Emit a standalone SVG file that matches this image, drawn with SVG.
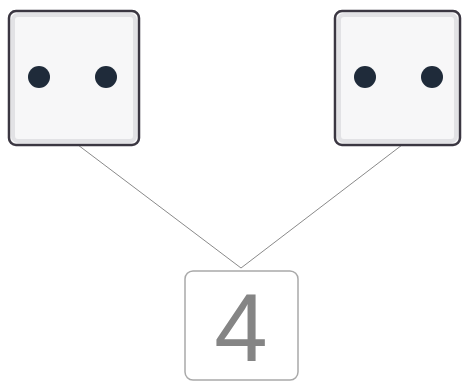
<svg xmlns="http://www.w3.org/2000/svg" width="467" height="382" viewBox="0 0 467 382">
<style>
.die{fill:#f7f7f8;stroke:#3b3742;stroke-width:2.5}
.inner{fill:none;stroke:#e2e2e5;stroke-width:4}
.dot{fill:#1f2b3a}
.conn{stroke:#8a8a8a;stroke-width:1;fill:none}
.num{fill:none;stroke:#a9a9a9;stroke-width:1.5}
.label{font-family:"Liberation Sans",Arial,sans-serif;font-size:96px;fill:#858585;text-anchor:middle}
</style>
<rect width="467" height="382" fill="#ffffff"/>
<g id="connectors">
<line class="conn" x1="78" y1="145" x2="241" y2="268"/>
<line class="conn" x1="402" y1="145" x2="241" y2="268"/>
</g>
<g id="die-left">
<rect class="die" x="9" y="11" width="130" height="134" rx="7"/>
<rect class="inner" x="13" y="15" width="122" height="126" rx="5"/>
<circle class="dot" cx="39" cy="77" r="11"/>
<circle class="dot" cx="106" cy="77" r="11"/>
</g>
<g id="die-right">
<rect class="die" x="335" y="11" width="125" height="134" rx="7"/>
<rect class="inner" x="339" y="15" width="117" height="126" rx="5"/>
<circle class="dot" cx="365" cy="77" r="11"/>
<circle class="dot" cx="432" cy="77" r="11"/>
</g>
<g id="result">
<rect class="num" x="185" y="271" width="113" height="109" rx="8"/>
<text class="label" x="241" y="361">4</text>
</g>
</svg>
